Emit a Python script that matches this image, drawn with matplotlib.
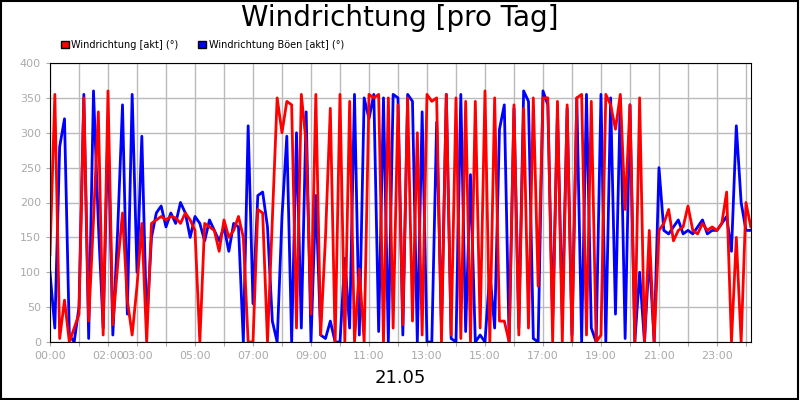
import matplotlib
matplotlib.use("Agg")
import matplotlib.pyplot as plt
import matplotlib.patches as mpatches
import numpy as np

# 10-minute samples, 00:00 .. 24:10
wind_akt = [
    125, 355, 5, 60, 0, 20,
    40, 350, 30, 175, 330, 10,
    360, 25, 110, 185, 60, 10,
    80, 170, 0, 170, 175, 180,
    175, 180, 178, 170, 185, 175,
    160, 0, 170, 165, 160, 130,
    175, 150, 160, 180, 150, 0,
    0, 190, 185, 0, 175, 350,
    300, 345, 340, 20, 355, 285,
    40, 355, 10, 150, 335, 0,
    355, 0, 345, 0, 105, 0,
    355, 350, 355, 0, 350, 20,
    340, 25, 350, 30, 300, 10,
    355, 345, 350, 0, 355, 10,
    350, 5, 345, 0, 345, 20,
    360, 0, 350, 30, 30, 0,
    340, 10, 335, 20, 350, 80,
    350, 350, 0, 345, 0, 340,
    0, 350, 355, 10, 345, 0,
    10, 355, 340, 305, 355, 190,
    340, 0, 350, 0, 160, 0,
    160, 170, 190, 145, 160, 165,
    195, 160, 155, 170, 160, 165,
    160, 170, 215, 0, 150, 0,
    200, 165,
]
wind_boeen = [
    100, 20, 280, 320, 10, 0,
    50, 355, 5, 360, 170, 20,
    310, 10, 160, 340, 40, 355,
    100, 295, 25, 150, 185, 195,
    165, 185, 170, 200, 185, 150,
    180, 170, 145, 175, 160, 145,
    165, 130, 170, 165, 0, 310,
    55, 210, 215, 165, 30, 0,
    180, 295, 0, 300, 20, 330,
    0, 210, 10, 5, 30, 0,
    0, 120, 20, 355, 10, 350,
    320, 355, 15, 350, 0, 355,
    350, 10, 355, 345, 0, 330,
    0, 0, 315, 20, 355, 5,
    0, 355, 15, 240, 0, 10,
    0, 100, 20, 305, 340, 0,
    335, 20, 360, 345, 5, 0,
    360, 340, 30, 330, 40, 335,
    10, 350, 0, 355, 20, 0,
    355, 0, 350, 40, 350, 5,
    340, 0, 100, 0, 125, 0,
    250, 160, 155, 165, 175, 155,
    160, 155, 165, 175, 155, 160,
    160, 170, 180, 130, 310, 200,
    160, 160,
]
hours = np.arange(len(wind_akt)) / 6.0
tick_labels = {0: "00:00", 2: "02:00", 3: "03:00", 5: "05:00", 7: "07:00", 9: "09:00",
               11: "11:00", 13: "13:00", 15: "15:00", 17: "17:00", 19: "19:00",
               21: "21:00", 23: "23:00"}

fig = plt.figure(figsize=(8, 4), dpi=100)
ax = fig.add_axes([0.0625, 0.145, 0.876, 0.6975])

ax.plot(hours, wind_boeen, color="#0000ff", linewidth=2)
ax.plot(hours, wind_akt, color="#ff0000", linewidth=2)

ax.set_xlim(0, hours[-1])
ax.set_ylim(0, 400)
ax.set_yticks(range(0, 401, 50))
ax.set_xticks(range(0, 25))
ax.set_xticklabels([tick_labels.get(h, "") for h in range(0, 25)])
ax.tick_params(labelsize=8, labelcolor="#aaaaaa", color="#aaaaaa", length=3)
ax.grid(True, color="#bbbbbb", linewidth=1)
ax.set_axisbelow(True)
for s in ax.spines.values():
    s.set_color("black")

fig.text(0.5, 0.955, "Windrichtung [pro Tag]", ha="center", va="center", fontsize=20)
fig.text(0.5, 0.055, "21.05", ha="center", va="center", fontsize=13)

handles = [mpatches.Patch(facecolor="#ff0000", edgecolor="black", label="Windrichtung [akt] (°)"),
           mpatches.Patch(facecolor="#0000ff", edgecolor="black", label="Windrichtung Böen [akt] (°)")]
fig.legend(handles=handles, loc="center left", bbox_to_anchor=(0.065, 0.888), ncol=2,
           frameon=False, fontsize=7, handlelength=0.8, handleheight=0.8,
           handletextpad=0.3, columnspacing=2)

fig.patches.append(mpatches.Rectangle((0.001, 0.002), 0.997, 0.996, transform=fig.transFigure,
                                      fill=False, edgecolor="black", linewidth=1.5))

plt.savefig("out.png")
plt.close()
